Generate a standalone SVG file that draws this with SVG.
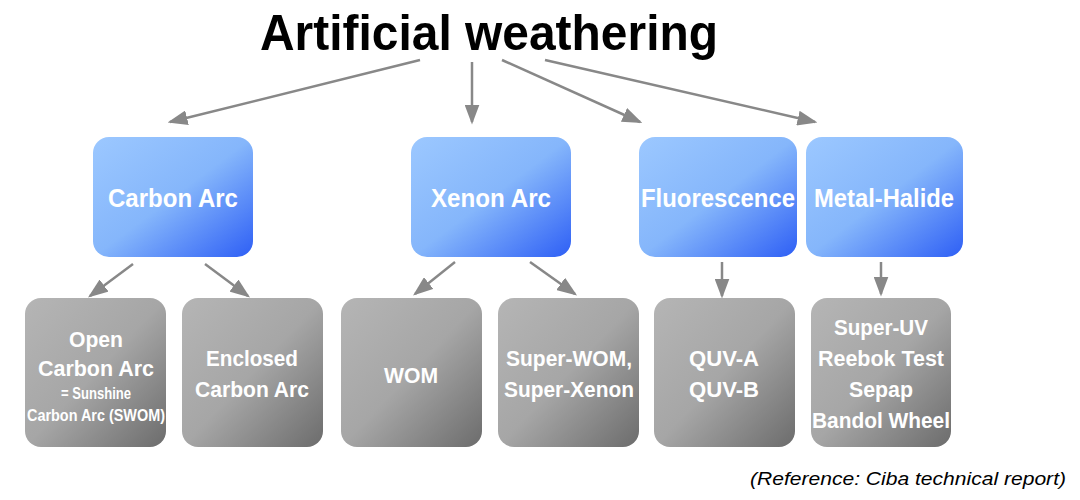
<svg xmlns="http://www.w3.org/2000/svg" width="1080" height="500" viewBox="0 0 1080 500">
<style>
text{font-family:"Liberation Sans",Arial,sans-serif;font-weight:bold;fill:#fff;text-anchor:middle}
.t{fill:#000}
.b{fill:url(#gb)}
.g{fill:url(#gg)}
.c line{stroke:#888;stroke-width:2.5;marker-end:url(#ah)}
.ref{fill:#000;font-style:italic;font-weight:normal;text-anchor:end;font-size:18px}
</style>
<defs>
<linearGradient id="gb" x1="0" y1="0" x2="1" y2="1"><stop offset="0" stop-color="#9cc8ff"/><stop offset="0.5" stop-color="#85b6fb"/><stop offset="1" stop-color="#2e5ff5"/></linearGradient>
<linearGradient id="gg" x1="0" y1="0" x2="1" y2="1"><stop offset="0" stop-color="#b5b5b5"/><stop offset="0.5" stop-color="#a6a6a6"/><stop offset="1" stop-color="#6c6c6c"/></linearGradient>
<marker id="ah" markerWidth="8" markerHeight="6" refX="7" refY="3" orient="auto" markerUnits="strokeWidth"><path d="M0,0L8,3L0,6z" fill="#888"/></marker>
</defs>
<text class="t" x="489" y="50" font-size="50" textLength="458" lengthAdjust="spacingAndGlyphs">Artificial weathering</text>
<g class="c">
<line x1="420" y1="60" x2="170" y2="122"/>
<line x1="472" y1="62" x2="472" y2="122"/>
<line x1="502" y1="60" x2="640" y2="122"/>
<line x1="545" y1="60" x2="815" y2="122"/>
<line x1="133" y1="264" x2="90" y2="296"/>
<line x1="205" y1="264" x2="248" y2="296"/>
<line x1="455" y1="262" x2="415" y2="294"/>
<line x1="530" y1="262" x2="575" y2="294"/>
<line x1="722" y1="262" x2="722" y2="296"/>
<line x1="881" y1="262" x2="881" y2="294"/>
</g>
<g id="carbon"><rect class="b" x="93" y="137" width="160" height="120" rx="16"/><text x="173" y="207" font-size="25" textLength="130" lengthAdjust="spacingAndGlyphs">Carbon Arc</text></g>
<g id="xenon"><rect class="b" x="411" y="137" width="160" height="120" rx="16"/><text x="491" y="207" font-size="25" textLength="120" lengthAdjust="spacingAndGlyphs">Xenon Arc</text></g>
<g id="fluor"><rect class="b" x="639" y="137" width="158" height="120" rx="16"/><text x="718" y="207" font-size="25" textLength="154" lengthAdjust="spacingAndGlyphs">Fluorescence</text></g>
<g id="metal"><rect class="b" x="806" y="137" width="157" height="120" rx="16"/><text x="884" y="207" font-size="25" textLength="140" lengthAdjust="spacingAndGlyphs">Metal-Halide</text></g>
<g id="open"><rect class="g" x="25" y="298" width="141" height="149" rx="16"/>
<text x="96" y="347" font-size="22" textLength="54" lengthAdjust="spacingAndGlyphs">Open</text>
<text x="96" y="376" font-size="22" textLength="116" lengthAdjust="spacingAndGlyphs">Carbon Arc</text>
<text x="96" y="399" font-size="16" textLength="70" lengthAdjust="spacingAndGlyphs">= Sunshine</text>
<text x="96" y="421" font-size="16" textLength="138" lengthAdjust="spacingAndGlyphs">Carbon Arc (SWOM)</text></g>
<g id="enclosed"><rect class="g" x="182" y="298" width="141" height="149" rx="16"/>
<text x="252" y="366" font-size="22" textLength="92" lengthAdjust="spacingAndGlyphs">Enclosed</text>
<text x="252" y="397" font-size="22" textLength="114" lengthAdjust="spacingAndGlyphs">Carbon Arc</text></g>
<g id="wom"><rect class="g" x="341" y="298" width="141" height="149" rx="16"/>
<text x="411" y="383" font-size="22" textLength="54" lengthAdjust="spacingAndGlyphs">WOM</text></g>
<g id="superwom"><rect class="g" x="498" y="298" width="141" height="149" rx="16"/>
<text x="569" y="366" font-size="22" textLength="126" lengthAdjust="spacingAndGlyphs">Super-WOM,</text>
<text x="569" y="397" font-size="22" textLength="130" lengthAdjust="spacingAndGlyphs">Super-Xenon</text></g>
<g id="quv"><rect class="g" x="654" y="298" width="141" height="149" rx="16"/>
<text x="724" y="366" font-size="22" textLength="70" lengthAdjust="spacingAndGlyphs">QUV-A</text>
<text x="724" y="397" font-size="22" textLength="70" lengthAdjust="spacingAndGlyphs">QUV-B</text></g>
<g id="superuv"><rect class="g" x="811" y="298" width="140" height="149" rx="16"/>
<text x="881" y="335" font-size="22" textLength="94" lengthAdjust="spacingAndGlyphs">Super-UV</text>
<text x="881" y="366" font-size="22" textLength="126" lengthAdjust="spacingAndGlyphs">Reebok Test</text>
<text x="881" y="397" font-size="22" textLength="64" lengthAdjust="spacingAndGlyphs">Sepap</text>
<text x="881" y="428" font-size="22" textLength="138" lengthAdjust="spacingAndGlyphs">Bandol Wheel</text></g>
<text class="ref" x="1066" y="485" textLength="316" lengthAdjust="spacingAndGlyphs">(Reference: Ciba technical report)</text>
</svg>
